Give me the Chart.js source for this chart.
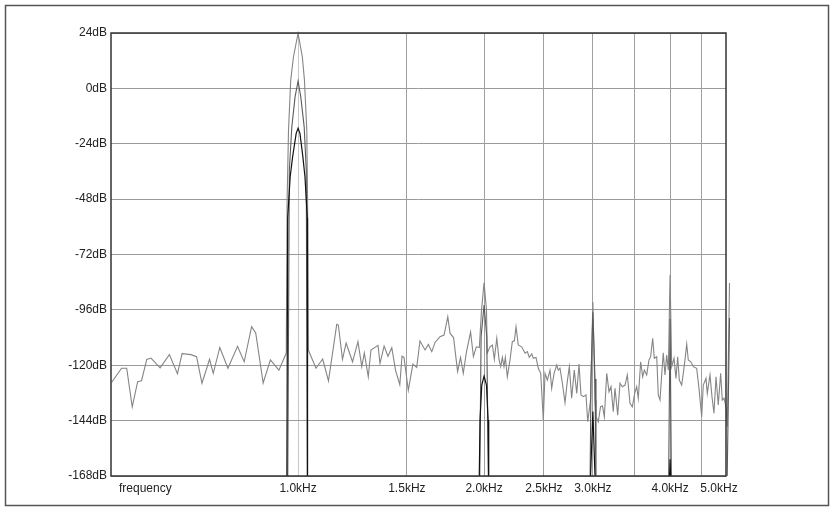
<!DOCTYPE html>
<html>
<head>
<meta charset="utf-8">
<script src="https://cdn.jsdelivr.net/npm/chart.js@4"></script>
<style>
  body { margin: 0; background: #fff; }
  #wrap { width: 834px; height: 510px; }
</style>
</head>
<body>
<div id="wrap"><canvas id="grafico" width="834" height="510"></canvas></div>
<script>
// spectrum trace (gray), Hz / dB
const noiseFreq = [499, 518, 528, 539, 550, 558, 569, 578, 598, 619, 638, 649, 671, 685, 699, 719, 729, 747, 770, 798, 818, 841, 854, 878, 902, 931, 957,
    960, 965, 973, 983, 1000, 1016, 1024, 1033, 1036, 1039,
    1069, 1096, 1120, 1155, 1162, 1180, 1196, 1225, 1250, 1268, 1280, 1299, 1312, 1347, 1357, 1378, 1398, 1418, 1438, 1461, 1473, 1484, 1508, 1534, 1556, 1575, 1605, 1625, 1646, 1666, 1697, 1723, 1747, 1762, 1785, 1812, 1832, 1851, 1872, 1902, 1922, 1943, 1965,
    1981, 2000, 2018, 2024,
    2045, 2063, 2078, 2097, 2115, 2128, 2141, 2154, 2165, 2181, 2203, 2222, 2239, 2253, 2272, 2301, 2330, 2350, 2367, 2389, 2403, 2427, 2448, 2470, 2494, 2510, 2532, 2557, 2573, 2596, 2622, 2637, 2654, 2677, 2704, 2727, 2748, 2772, 2799, 2825, 2849, 2870, 2895, 2924, 2943,
    2974, 3000, 3024,
    3035, 3061, 3087, 3110, 3131, 3159, 3186, 3210, 3237, 3258, 3291, 3319, 3348, 3382, 3411, 3445, 3475, 3506, 3532, 3553, 3585, 3612, 3634, 3666, 3698, 3721, 3749, 3772, 3806, 3828, 3853, 3877, 3900, 3925, 3950, 3974,
    4000,
    4024, 4059, 4089, 4115, 4140, 4177, 4202, 4229, 4256, 4281, 4320, 4362, 4417, 4455, 4500, 4527, 4573, 4595, 4642, 4676, 4711, 4747, 4787, 4830, 4859, 4890, 4927, 4951, 4992];
const noiseDb = [-127.5, -121.3, -121.3, -138.0, -127.1, -126.7, -117.5, -116.9, -121.1, -115.4, -123.7, -115.0, -115.4, -116.3, -127.8, -117.4, -123.5, -112.3, -121.3, -111.8, -118.5, -103.3, -106.0, -127.7, -117.7, -122.1, -114.7,
    -48.4, -18.0, 3.6, 13.7, 23.8, 13.7, 3.6, -18.0, -48.4, -113.4,
    -121.3, -117.3, -126.8, -102.3, -102.6, -117.4, -110.4, -118.5, -109.8, -120.6, -114.7, -125.0, -113.4, -111.4, -119.2, -111.7, -116.1, -112.4, -122.2, -128.4, -116.1, -116.6, -130.9, -119.5, -120.9, -109.5, -113.4, -111.0, -114.1, -110.1, -107.6, -106.9, -99.0, -106.2, -108.0, -122.7, -116.6, -123.5, -114.5, -105.6, -116.2, -112.0, -112.3,
    -96.1, -84.2, -96.1, -114.7,
    -112.0, -111.2, -117.4, -108.3, -117.7, -120.6, -116.6, -120.6, -116.6, -125.0, -117.7, -109.8, -109.4, -103.3, -111.2, -112.0, -114.8, -114.1, -116.6, -115.1, -117.0, -116.6, -121.3, -123.5, -143.7, -123.5, -126.4, -122.1, -130.0, -123.5, -119.9, -122.1, -121.3, -127.6, -136.2, -127.1, -120.6, -134.3, -122.1, -132.2, -119.5, -132.9, -133.6, -132.9, -144.5,
    -135.1, -92.6, -135.1,
    -142.3, -144.5, -138.0, -137.7, -142.4, -123.5, -131.5, -129.3, -140.1, -130.0, -141.6, -127.8, -129.3, -128.6, -124.2, -136.5, -138.0, -132.2, -129.3, -134.3, -118.5, -125.0, -122.1, -124.2, -117.7, -116.3, -108.3, -117.0, -116.3, -132.9, -135.1, -124.2, -114.6, -124.2, -115.6, -122.1,
    -80.9,
    -120.6, -117.0, -125.7, -116.3, -126.4, -128.6, -123.5, -117.7, -110.8, -117.7, -118.5, -120.6, -121.3, -130.0, -142.3, -128.6, -125.7, -132.2, -124.2, -133.6, -140.8, -125.0, -137.2, -123.5, -135.1, -134.3, -138.0, -146.6, -84.4];

// second trace (dark gray), only the harmonics show above the floor
const midFreq = [962, 968, 977, 989, 1000, 1010, 1023, 1031, 1035, 1500, 1967, 1978, 2000, 2020, 2034, 2500, 2968, 2979, 3000, 3024, 3035, 3500, 3977, 4000, 4021, 4500, 4945, 4992];
const midDb = [-175, -35.4, -16.6, -3.6, 3.2, -3.6, -16.6, -35.4, -175, null, -175, -107.6, -93.9, -107.6, -175, null, -175, -126, -97, -126, -175, null, -175, -100, -175, null, -175, -99.5];

// third trace (black)
const blackFreq = [959, 962, 971, 980, 993, 1000, 1007, 1018, 1026, 1035, 1036, 1500, 1963, 1970, 1983, 2000, 2018, 2030, 2035, 2500, 2968, 3000, 3030, 3500, 3985, 4000, 4015];
const blackDb = [-175, -56.2, -38.3, -29.6, -19.5, -17.3, -19.5, -29.6, -38.3, -56.2, -175, null, -175, -143.7, -128.6, -124.7, -128.6, -143.7, -175, null, -175, -140.1, -175, null, -175, -160.8, -175];

const xMin = 498;
const xMax = 4927;
const xTickValues = [566, 1000, 1500, 2000, 2500, 3000, 3500, 4000, 4500, 4800];
const xTickLabels = ['frequency', '1.0kHz', '1.5kHz', '2.0kHz', '2.5kHz', '3.0kHz', '', '4.0kHz', '', '5.0kHz'];
const xGridColors = ['rgba(0,0,0,0)', '#c8c8c8', '#a0a0a0', '#a0a0a0', '#a0a0a0', '#a0a0a0', '#a0a0a0', '#a0a0a0', '#a0a0a0', 'rgba(0,0,0,0)'];
const yTickValues = [-168, -144, -120, -96, -72, -48, -24, 0, 24];

const fonte = { family: '"Liberation Sans", Arial, sans-serif', size: 12 };

function pares(freqs, dbs) {
    return freqs.map((f, i) => ({ x: f, y: dbs[i] }));
}

const molduraPlugin = {
    id: 'moldura',
    beforeDraw(chart) {
        const ctx = chart.ctx;
        ctx.save();
        ctx.fillStyle = '#fff';
        ctx.fillRect(0, 0, chart.width, chart.height);
        ctx.strokeStyle = '#555';
        ctx.lineWidth = 1.5;
        ctx.strokeRect(5.5, 5.5, 823, 500);
        ctx.restore();
    },
    afterDraw(chart) {
        const a = chart.chartArea;
        const ctx = chart.ctx;
        ctx.save();
        ctx.strokeStyle = '#333';
        ctx.lineWidth = 1.5;
        ctx.strokeRect(a.left, a.top, a.right - a.left, a.bottom - a.top);
        ctx.restore();
    }
};

const ctx = document.getElementById('grafico').getContext('2d');
const chart = new Chart(ctx, {
    type: 'line',
    data: {
        datasets: [
            { label: 'c', data: pares(blackFreq, blackDb), borderColor: '#111', borderWidth: 1.2 },
            { label: 'b', data: pares(midFreq, midDb), borderColor: '#5a5a5a', borderWidth: 1.1, clip: { left: 0, top: 0, right: 6, bottom: 0 } },
            { label: 'a', data: pares(noiseFreq, noiseDb), borderColor: '#858585', borderWidth: 1.1, clip: { left: 0, top: 2, right: 6, bottom: 0 } }
        ]
    },
    options: {
        responsive: false,
        animation: false,
        spanGaps: false,
        elements: { point: { radius: 0 }, line: { tension: 0 } },
        layout: { padding: { left: 0, top: 33, right: 108, bottom: 6 } },
        plugins: { legend: { display: false }, tooltip: { enabled: false } },
        scales: {
            x: {
                type: 'logarithmic',
                bounds: 'data',
                // range set here (not min/max) so the last points past the edge are still drawn
                afterDataLimits: s => { s.min = xMin; s.max = xMax; },
                afterBuildTicks: s => { s.ticks = xTickValues.map(v => ({ value: v })); },
                afterFit: s => { s.height = 28; },
                ticks: {
                    autoSkip: false,
                    maxRotation: 0,
                    padding: 5,
                    color: '#222',
                    font: fonte,
                    callback: (v, i) => xTickLabels[i]
                },
                grid: { drawTicks: false, color: c => xGridColors[c.index], lineWidth: 1 },
                border: { display: false }
            },
            y: {
                min: -168,
                max: 24,
                afterBuildTicks: s => { s.ticks = yTickValues.map(v => ({ value: v })); },
                afterFit: s => { s.width = 111; },
                ticks: { padding: 4, color: '#222', font: fonte, callback: v => v + 'dB' },
                grid: { drawTicks: false, color: '#9a9a9a', lineWidth: 1 },
                border: { display: false }
            }
        }
    },
    plugins: [molduraPlugin]
});
</script>
</body>
</html>
